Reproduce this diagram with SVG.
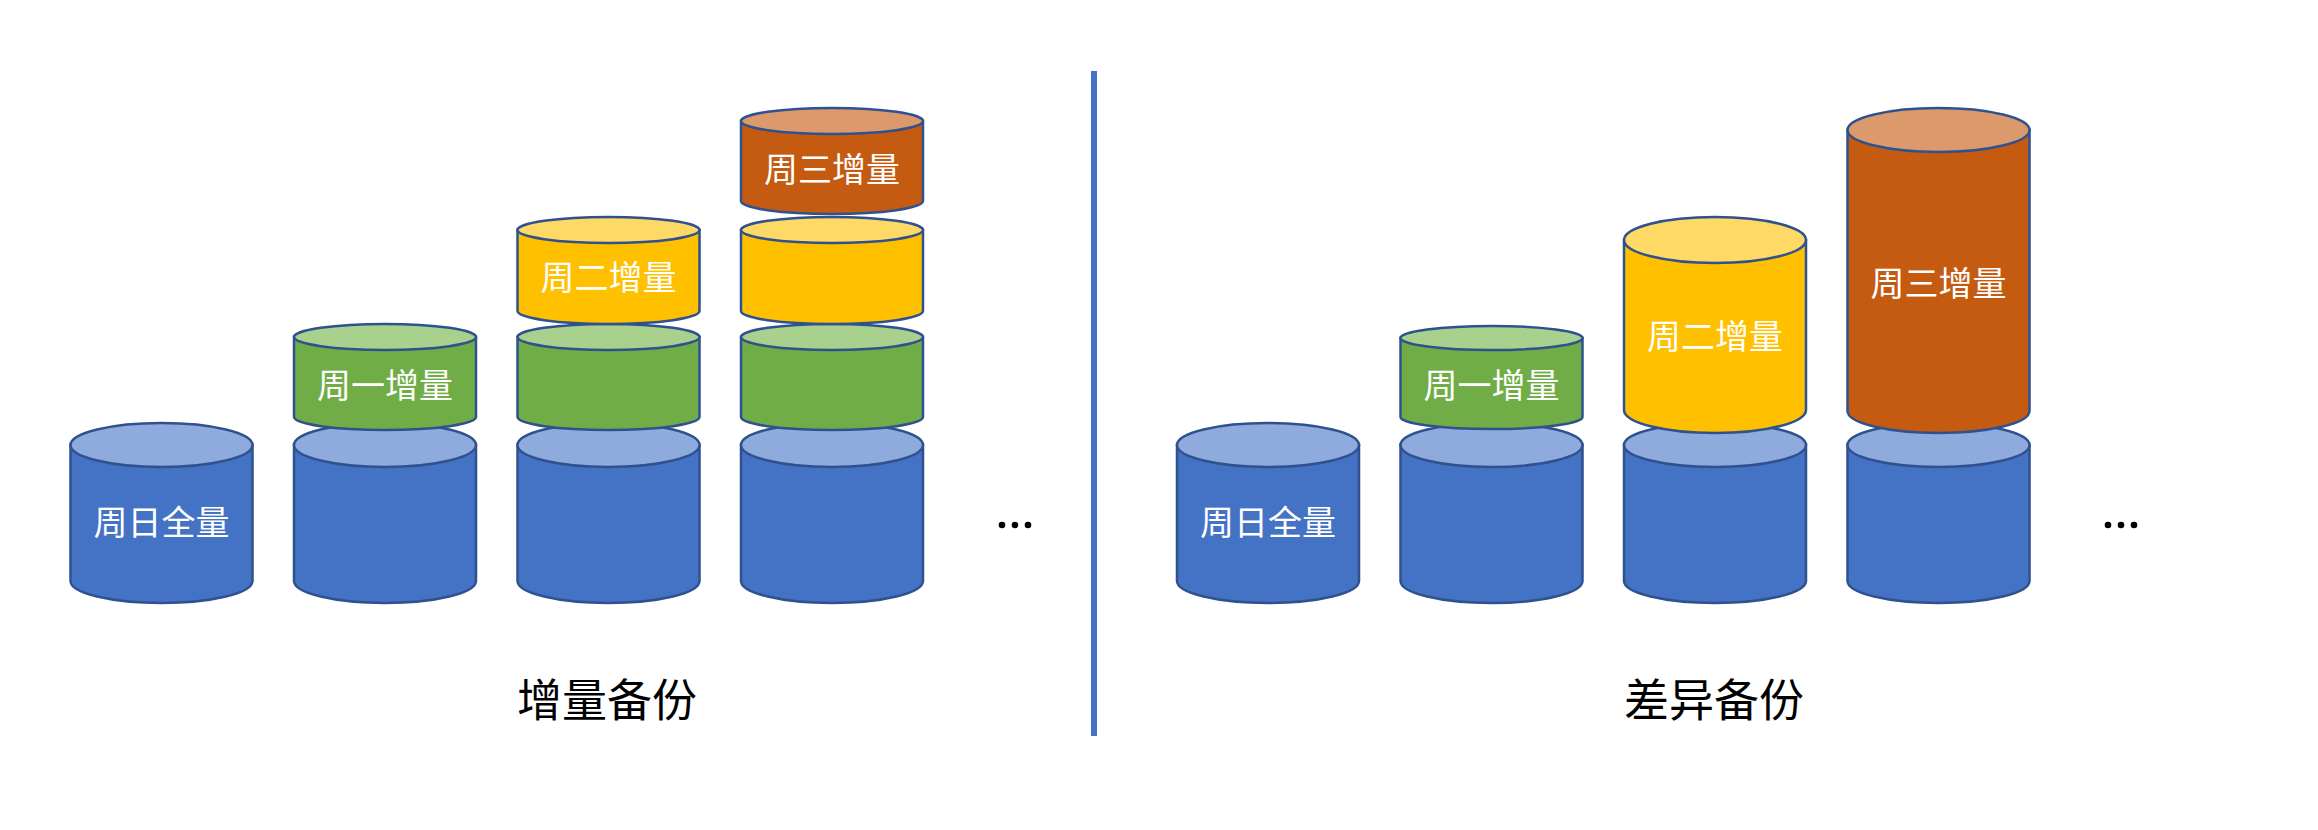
<svg xmlns="http://www.w3.org/2000/svg" width="2318" height="830" viewBox="0 0 2318 830">
<style>
.cyl path, .cyl ellipse { stroke: #2F528F; stroke-width: 2.5; }
.blue .body { fill: #4472C4; } .blue .top { fill: #8FAADC; }
.green .body { fill: #70AD47; } .green .top { fill: #A9D18E; }
.yellow .body { fill: #FFC000; } .yellow .top { fill: #FFD966; }
.orange .body { fill: #C55A11; } .orange .top { fill: #DC9A6C; }
.lbl { font-family: "Noto Sans CJK SC", "Microsoft YaHei", sans-serif; font-size: 34px; fill: #FFFFFF; text-anchor: middle; dominant-baseline: central; }
.cap { font-family: "Noto Sans CJK SC", "Microsoft YaHei", sans-serif; font-size: 45px; fill: #000000; text-anchor: middle; dominant-baseline: central; }
.dot { fill: #000000; }
</style>
<rect width="2318" height="830" fill="#FFFFFF"/>

<!-- Left: incremental backup -->
<g id="l1-base" class="cyl blue">
  <path class="body" d="M70.5 445 V581 A91 22 0 0 0 252.5 581 V445 Z"/>
  <ellipse class="top" cx="161.5" cy="445" rx="91" ry="22"/>
  <text class="lbl" x="161.5" y="520">周日全量</text>
</g>

<g id="l2-base" class="cyl blue">
  <path class="body" d="M294 445 V581 A91 22 0 0 0 476 581 V445 Z"/>
  <ellipse class="top" cx="385" cy="445" rx="91" ry="22"/>
</g>
<g id="l2-mon" class="cyl green">
  <path class="body" d="M294 337 V417 A91 13 0 0 0 476 417 V337 Z"/>
  <ellipse class="top" cx="385" cy="337" rx="91" ry="13"/>
  <text class="lbl" x="385" y="383">周一增量</text>
</g>

<g id="l3-base" class="cyl blue">
  <path class="body" d="M517.5 445 V581 A91 22 0 0 0 699.5 581 V445 Z"/>
  <ellipse class="top" cx="608.5" cy="445" rx="91" ry="22"/>
</g>
<g id="l3-mon" class="cyl green">
  <path class="body" d="M517.5 337 V417 A91 13 0 0 0 699.5 417 V337 Z"/>
  <ellipse class="top" cx="608.5" cy="337" rx="91" ry="13"/>
</g>
<g id="l3-tue" class="cyl yellow">
  <path class="body" d="M517.5 230 V311 A91 13 0 0 0 699.5 311 V230 Z"/>
  <ellipse class="top" cx="608.5" cy="230" rx="91" ry="13"/>
  <text class="lbl" x="608.5" y="275">周二增量</text>
</g>

<g id="l4-base" class="cyl blue">
  <path class="body" d="M741 445 V581 A91 22 0 0 0 923 581 V445 Z"/>
  <ellipse class="top" cx="832" cy="445" rx="91" ry="22"/>
</g>
<g id="l4-mon" class="cyl green">
  <path class="body" d="M741 337 V417 A91 13 0 0 0 923 417 V337 Z"/>
  <ellipse class="top" cx="832" cy="337" rx="91" ry="13"/>
</g>
<g id="l4-tue" class="cyl yellow">
  <path class="body" d="M741 230 V311 A91 13 0 0 0 923 311 V230 Z"/>
  <ellipse class="top" cx="832" cy="230" rx="91" ry="13"/>
</g>
<g id="l4-wed" class="cyl orange">
  <path class="body" d="M741 121 V201 A91 13 0 0 0 923 201 V121 Z"/>
  <ellipse class="top" cx="832" cy="121" rx="91" ry="13"/>
  <text class="lbl" x="832" y="167">周三增量</text>
</g>

<g id="l-dots">
  <circle class="dot" cx="1002" cy="525" r="3.3"/>
  <circle class="dot" cx="1015" cy="525" r="3.3"/>
  <circle class="dot" cx="1028" cy="525" r="3.3"/>
</g>

<g id="l-caption"><text class="cap" x="607" y="697">增量备份</text></g>

<!-- Separator -->
<g id="connectors">
  <line x1="1094" y1="71" x2="1094" y2="736" stroke="#4472C4" stroke-width="6"/>
</g>

<!-- Right: differential backup -->
<g id="r1-base" class="cyl blue">
  <path class="body" d="M1177 445 V581 A91 22 0 0 0 1359 581 V445 Z"/>
  <ellipse class="top" cx="1268" cy="445" rx="91" ry="22"/>
  <text class="lbl" x="1268" y="520">周日全量</text>
</g>

<g id="r2-base" class="cyl blue">
  <path class="body" d="M1400.5 445 V581 A91 22 0 0 0 1582.5 581 V445 Z"/>
  <ellipse class="top" cx="1491.5" cy="445" rx="91" ry="22"/>
</g>
<g id="r2-mon" class="cyl green">
  <path class="body" d="M1400.5 338 V417 A91 12 0 0 0 1582.5 417 V338 Z"/>
  <ellipse class="top" cx="1491.5" cy="338" rx="91" ry="12"/>
  <text class="lbl" x="1491.5" y="383">周一增量</text>
</g>

<g id="r3-base" class="cyl blue">
  <path class="body" d="M1624 445 V581 A91 22 0 0 0 1806 581 V445 Z"/>
  <ellipse class="top" cx="1715" cy="445" rx="91" ry="22"/>
</g>
<g id="r3-tue" class="cyl yellow">
  <path class="body" d="M1624 240 V410 A91 23 0 0 0 1806 410 V240 Z"/>
  <ellipse class="top" cx="1715" cy="240" rx="91" ry="23"/>
  <text class="lbl" x="1715" y="334">周二增量</text>
</g>

<g id="r4-base" class="cyl blue">
  <path class="body" d="M1847.5 445 V581 A91 22 0 0 0 2029.5 581 V445 Z"/>
  <ellipse class="top" cx="1938.5" cy="445" rx="91" ry="22"/>
</g>
<g id="r4-wed" class="cyl orange">
  <path class="body" d="M1847.5 130 V411 A91 22 0 0 0 2029.5 411 V130 Z"/>
  <ellipse class="top" cx="1938.5" cy="130" rx="91" ry="22"/>
  <text class="lbl" x="1938.5" y="281">周三增量</text>
</g>

<g id="r-dots">
  <circle class="dot" cx="2108" cy="525" r="3.3"/>
  <circle class="dot" cx="2121" cy="525" r="3.3"/>
  <circle class="dot" cx="2134" cy="525" r="3.3"/>
</g>

<g id="r-caption"><text class="cap" x="1714" y="697">差异备份</text></g>
</svg>
